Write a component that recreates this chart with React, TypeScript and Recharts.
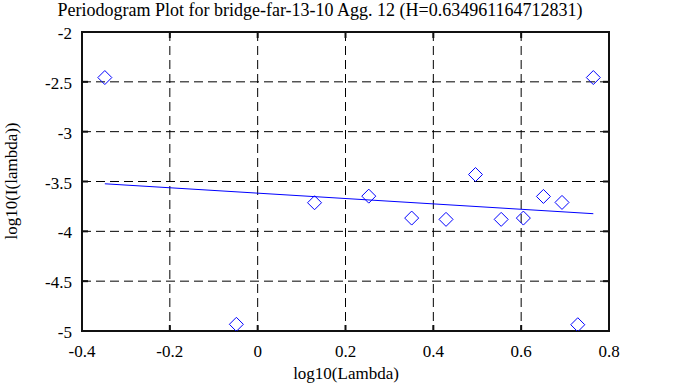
import React from 'react';
import { ScatterChart, Scatter, XAxis, YAxis, CartesianGrid, ReferenceArea } from 'recharts';

const logLambda = [-0.348, -0.0485, 0.1295, 0.253, 0.3507, 0.4289, 0.496, 0.5545, 0.605, 0.6507, 0.693, 0.7289, 0.7643];
const logPower = [-2.457, -4.933, -3.713, -3.647, -3.867, -3.88, -3.43, -3.88, -3.867, -3.65, -3.71, -4.937, -2.457];
const fitX = [-0.348, 0.7643];
const fitY = [-3.523, -3.823];
const xTicks = [-0.4, -0.2, 0, 0.2, 0.4, 0.6, 0.8];
const yTicks = [-5, -4.5, -4, -3.5, -3, -2.5, -2];
const xDomain = [-0.4, 0.8];
const yDomain = [-5, -2];
const title = 'Periodogram Plot for bridge-far-13-10 Agg. 12 (H=0.634961164712831)';

const points = logLambda.map((x, i) => ({ x, y: logPower[i] }));
const fit = fitX.map((x, i) => ({ x, y: fitY[i] }));

const FONT = "'Liberation Serif', 'Times New Roman', serif";
const TICK_FS = 17;
const INK = '#111111';

const bottomTick = (p: any) => (
  <g key={`b${p.index}`}>
    <line x1={p.x} x2={p.x} y1={p.y} y2={p.y - 6} stroke={INK} strokeWidth={2} />
    <text x={p.x} y={p.y + 26} textAnchor="middle" style={{ fontFamily: FONT, fontSize: TICK_FS }} fill="#000">
      {String(p.payload.value)}
    </text>
  </g>
);
const topTick = (p: any) => (
  <line key={`t${p.index}`} x1={p.x} x2={p.x} y1={p.y} y2={p.y + 6} stroke={INK} strokeWidth={2} />
);
const leftTick = (p: any) => (
  <g key={`l${p.index}`}>
    <line x1={p.x} x2={p.x + 6} y1={p.y} y2={p.y} stroke={INK} strokeWidth={2} />
    <text x={p.x - 10} y={p.y + 7} textAnchor="end" style={{ fontFamily: FONT, fontSize: TICK_FS }} fill="#000">
      {String(p.payload.value)}
    </text>
  </g>
);
const rightTick = (p: any) => (
  <line key={`r${p.index}`} x1={p.x} x2={p.x - 6} y1={p.y} y2={p.y} stroke={INK} strokeWidth={2} />
);

const Diamond = (p: any) => {
  const { cx, cy } = p;
  if (cx == null || cy == null) return null;
  const r = 7;
  return (
    <polygon
      points={`${cx},${cy - r} ${cx + r},${cy} ${cx},${cy + r} ${cx - r},${cy}`}
      fill="none"
      stroke="#0000ff"
      strokeWidth={1}
    />
  );
};
const NoShape = () => null;

export default function App() {
  return (
    <div style={{ position: 'absolute', left: 0, top: 0, width: 688, height: 387, background: '#fff' }}>
      <div
        style={{
          position: 'absolute', left: 0, top: 0, width: 640, textAlign: 'center',
          fontFamily: FONT, fontSize: 18, lineHeight: '20px', color: '#000', whiteSpace: 'nowrap',
        }}
      >
        {title}
      </div>
      <div
        style={{
          position: 'absolute', left: 12, top: 181, width: 0, height: 0,
        }}
      >
        <div style={{
          position: 'absolute', left: -100, top: -10, width: 200, height: 20, textAlign: 'center',
          transform: 'rotate(-90deg)', fontFamily: FONT, fontSize: TICK_FS, lineHeight: '20px', whiteSpace: 'nowrap',
        }}>log10(I(lambda))</div>
      </div>
      <div
        style={{
          position: 'absolute', left: 246, top: 364, width: 200, textAlign: 'center',
          fontFamily: FONT, fontSize: TICK_FS, lineHeight: '20px', whiteSpace: 'nowrap',
        }}
      >log10(Lambda)</div>
      <ScatterChart width={688} height={387} margin={{ top: 31, right: 78, bottom: 0, left: 0 }} style={{ position: 'absolute', left: 0, top: 0 }}>
        <CartesianGrid stroke="#000" strokeDasharray="9 5" strokeWidth={1} verticalValues={xTicks} horizontalValues={yTicks} />
        <XAxis
          type="number" dataKey="x" domain={xDomain} ticks={xTicks}
          height={56} tickSize={0} tickMargin={0} tickLine={false} stroke={INK}
          axisLine={{ stroke: INK, strokeWidth: 2 }} tick={bottomTick} interval={0}
          allowDataOverflow
        />
        <XAxis
          xAxisId="t" orientation="top" type="number" dataKey="x" domain={xDomain} ticks={xTicks}
          height={1} tickSize={0} tickMargin={0} tickLine={false} stroke={INK}
          axisLine={{ stroke: INK, strokeWidth: 2 }} tick={topTick} interval={0}
          allowDataOverflow
        />
        <YAxis
          type="number" dataKey="y" domain={yDomain} ticks={yTicks}
          width={82} tickSize={0} tickMargin={0} tickLine={false} stroke={INK}
          axisLine={{ stroke: INK, strokeWidth: 2 }} tick={leftTick} interval={0}
          allowDataOverflow
        />
        <YAxis
          yAxisId="r" orientation="right" type="number" dataKey="y" domain={yDomain} ticks={yTicks}
          width={1} tickSize={0} tickMargin={0} tickLine={false} stroke={INK}
          axisLine={{ stroke: INK, strokeWidth: 2 }} tick={rightTick} interval={0}
          allowDataOverflow
        />
        <ReferenceArea
          x1={xDomain[0]} x2={xDomain[1]} y1={yDomain[0]} y2={yDomain[1]}
          fill="none" fillOpacity={0} stroke={INK} strokeWidth={2} strokeOpacity={1}
          ifOverflow="visible"
        />
        <Scatter data={fit} line={{ stroke: '#0000ff', strokeWidth: 1 }} shape={<NoShape />} isAnimationActive={false} />
        <Scatter data={points} shape={<Diamond />} isAnimationActive={false} />
        <Scatter xAxisId="t" yAxisId="r" data={fit} shape={<NoShape />} isAnimationActive={false} />
      </ScatterChart>
    </div>
  );
}
